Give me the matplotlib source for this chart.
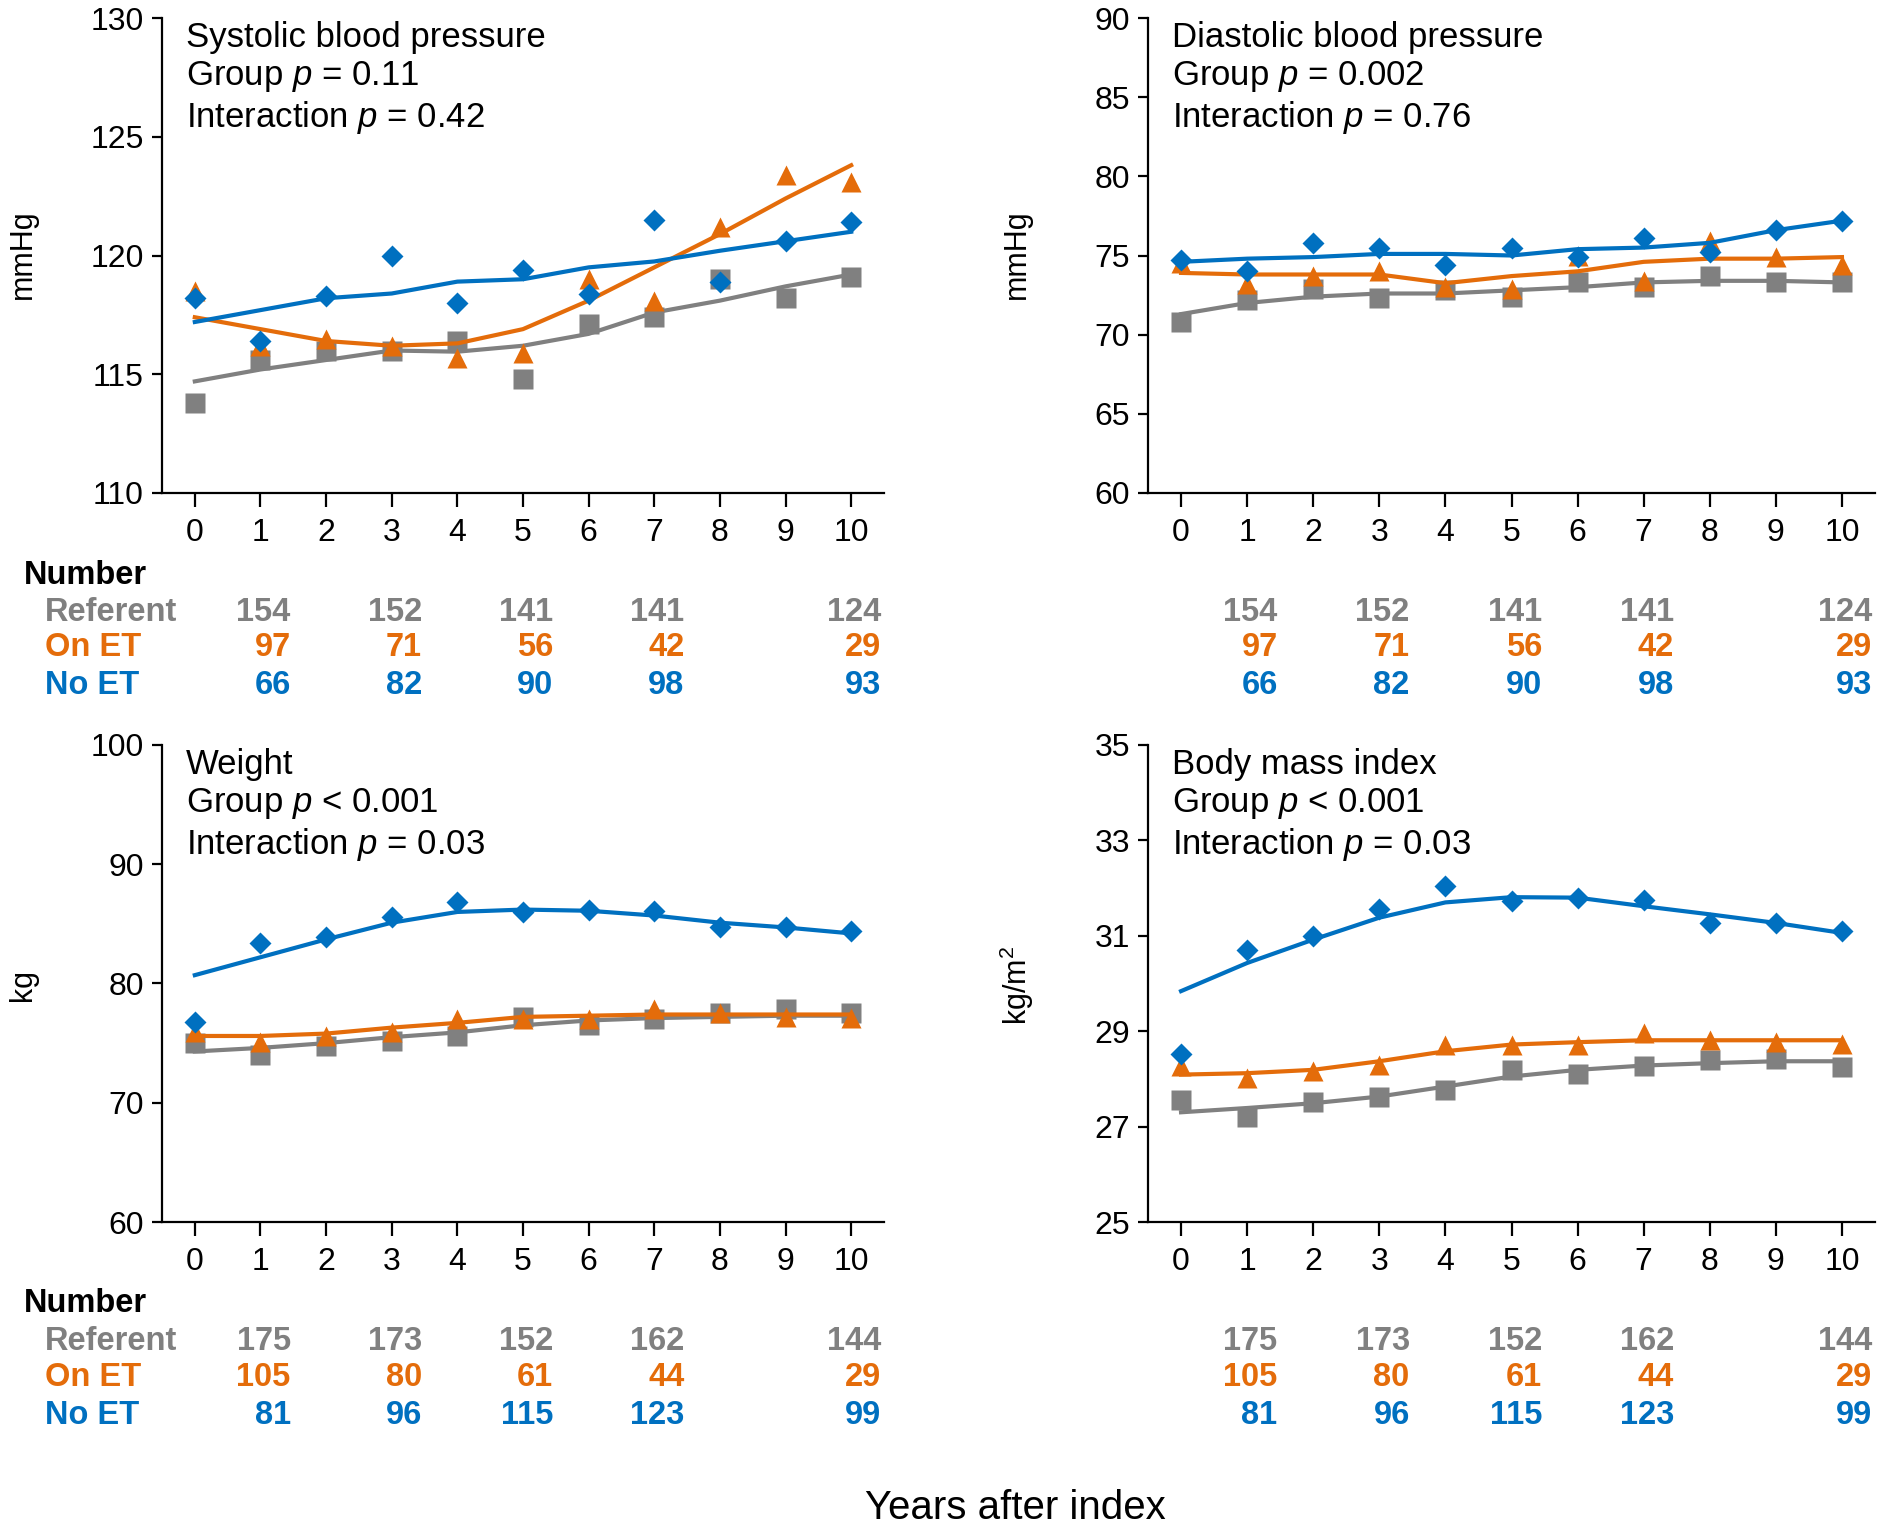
import matplotlib
matplotlib.use("Agg")
import matplotlib.pyplot as plt
import matplotlib.transforms as mtransforms
import numpy as np

plt.rcParams['font.family'] = ['Liberation Sans', 'DejaVu Sans']
plt.rcParams['mathtext.fontset'] = 'custom'
plt.rcParams['mathtext.it'] = 'Liberation Sans:italic'
plt.rcParams['mathtext.rm'] = 'Liberation Sans'

years = np.arange(11)

GRAY = '#808080'
ORANGE = '#E46C0A'
BLUE = '#0070C0'

# Systolic blood pressure (mmHg)
sbp_ref = [113.8, 115.6, 116.0, 116.0, 116.4, 114.8, 117.1, 117.4, 119.0, 118.2, 119.1]
sbp_on = [118.5, 116.2, 116.5, 116.2, 115.7, 115.9, 119.0, 118.1, 121.2, 123.4, 123.1]
sbp_no = [118.2, 116.4, 118.3, 120.0, 118.0, 119.4, 118.4, 121.5, 118.9, 120.6, 121.4]
sbp_ref_fit = [114.7, 115.2, 115.6, 116.0, 115.95, 116.2, 116.7, 117.6, 118.1, 118.7, 119.2]
sbp_on_fit = [117.4, 116.9, 116.4, 116.2, 116.3, 116.9, 118.1, 119.5, 120.9, 122.4, 123.8]
sbp_no_fit = [117.2, 117.7, 118.2, 118.4, 118.9, 119.0, 119.5, 119.75, 120.2, 120.6, 121.0]

# Diastolic blood pressure (mmHg)
dbp_ref = [70.8, 72.2, 72.9, 72.3, 72.8, 72.4, 73.3, 73.0, 73.7, 73.3, 73.3]
dbp_on = [74.5, 73.2, 73.7, 74.0, 73.0, 72.9, 75.0, 73.4, 75.9, 74.9, 74.4]
dbp_no = [74.7, 74.0, 75.8, 75.5, 74.4, 75.5, 74.9, 76.1, 75.2, 76.6, 77.2]
dbp_ref_fit = [71.3, 72.0, 72.4, 72.6, 72.6, 72.8, 73.0, 73.3, 73.4, 73.4, 73.3]
dbp_on_fit = [73.9, 73.8, 73.8, 73.8, 73.25, 73.7, 74.0, 74.6, 74.8, 74.8, 74.9]
dbp_no_fit = [74.6, 74.8, 74.9, 75.1, 75.1, 75.0, 75.4, 75.5, 75.8, 76.6, 77.2]

# Weight (kg)
wt_ref = [75.0, 74.0, 74.8, 75.2, 75.6, 77.2, 76.5, 77.0, 77.5, 77.9, 77.5]
wt_on = [75.9, 75.1, 75.6, 75.9, 77.0, 77.0, 77.0, 77.9, 77.5, 77.2, 77.1]
wt_no = [76.8, 83.4, 83.9, 85.6, 86.8, 86.0, 86.2, 86.1, 84.7, 84.7, 84.4]
wt_ref_fit = [74.3, 74.6, 75.0, 75.5, 75.9, 76.5, 76.9, 77.1, 77.2, 77.3, 77.3]
wt_on_fit = [75.6, 75.6, 75.8, 76.3, 76.7, 77.2, 77.3, 77.4, 77.4, 77.4, 77.4]
wt_no_fit = [80.7, 82.2, 83.7, 85.1, 86.0, 86.2, 86.1, 85.7, 85.1, 84.7, 84.2]

# Body mass index (kg/m2)
bmi_ref = [27.55, 27.21, 27.51, 27.63, 27.76, 28.19, 28.11, 28.26, 28.40, 28.41, 28.25]
bmi_on = [28.26, 28.02, 28.16, 28.30, 28.72, 28.72, 28.72, 28.96, 28.81, 28.77, 28.74]
bmi_no = [28.53, 30.71, 30.99, 31.56, 32.04, 31.73, 31.80, 31.75, 31.27, 31.26, 31.10]
bmi_ref_fit = [27.30, 27.39, 27.49, 27.63, 27.84, 28.05, 28.19, 28.28, 28.33, 28.37, 28.37]
bmi_on_fit = [28.09, 28.12, 28.19, 28.37, 28.58, 28.72, 28.77, 28.81, 28.81, 28.81, 28.81]
bmi_no_fit = [29.84, 30.43, 30.92, 31.38, 31.70, 31.81, 31.80, 31.62, 31.45, 31.27, 31.06]

# numbers at risk
count_years = [1, 3, 5, 7, 10]
bp_ref_n = [154, 152, 141, 141, 124]
bp_on_n = [97, 71, 56, 42, 29]
bp_no_n = [66, 82, 90, 98, 93]
wt_ref_n = [175, 173, 152, 162, 144]
wt_on_n = [105, 80, 61, 44, 29]
wt_no_n = [81, 96, 115, 123, 99]

fig = plt.figure(figsize=(18.82, 15.28), dpi=100)

W, H = 1882, 1528


def make_ax(left, top, right, bottom):
    return fig.add_axes([left / W, 1 - bottom / H, (right - left) / W, (bottom - top) / H])


def draw_panel(ax, ref, on, no, ref_fit, on_fit, no_fit, ylim, yticks, lines):
    ax.plot(years, ref, 's', color=GRAY, ms=14, mec='none')
    ax.plot(years, ref_fit, '-', color=GRAY, lw=3)
    ax.plot(years, on, '^', color=ORANGE, ms=14, mec='none')
    ax.plot(years, on_fit, '-', color=ORANGE, lw=3)
    ax.plot(years, no, 'D', color=BLUE, ms=11, mec='none')
    ax.plot(years, no_fit, '-', color=BLUE, lw=3)
    ax.set_xlim(-0.5, 10.5)
    ax.set_ylim(*ylim)
    ax.set_yticks(yticks)
    ax.set_xticks(years)
    for s in ['top', 'right']:
        ax.spines[s].set_visible(False)
    for s in ['left', 'bottom']:
        ax.spines[s].set_linewidth(1.6)
    ax.tick_params(axis='x', direction='out', length=10, width=1.6, pad=8, labelsize=23)
    ax.tick_params(axis='y', direction='out', length=7, width=1.6, pad=6, labelsize=23)
    ax.text(0.033, 0.994, "\n".join(lines), transform=ax.transAxes, ha='left', va='top',
            fontsize=25, linespacing=1.19)


def draw_counts(ax, ys, ref_n, on_n, no_n, with_labels):
    tr = mtransforms.blended_transform_factory(ax.transData, fig.transFigure)
    kw = dict(fontsize=23.5, fontweight='bold')
    for x, r, o, n in zip(count_years, ref_n, on_n, no_n):
        ax.text(x + 0.46, ys[1], str(r), transform=tr, ha='right', va='center', color=GRAY, **kw)
        ax.text(x + 0.46, ys[2], str(o), transform=tr, ha='right', va='center', color=ORANGE, **kw)
        ax.text(x + 0.46, ys[3], str(n), transform=tr, ha='right', va='center', color=BLUE, **kw)
    if with_labels:
        fig.text(24 / W, ys[0], "Number", ha='left', va='center', color='black', **kw)
        fig.text(45 / W, ys[1], "Referent", ha='left', va='center', color=GRAY, **kw)
        fig.text(45 / W, ys[2], "On ET", ha='left', va='center', color=ORANGE, **kw)
        fig.text(45 / W, ys[3], "No ET", ha='left', va='center', color=BLUE, **kw)


ax1 = make_ax(162, 18, 884, 493)
draw_panel(ax1, sbp_ref, sbp_on, sbp_no, sbp_ref_fit, sbp_on_fit, sbp_no_fit,
           (110, 130), [110, 115, 120, 125, 130],
           ["Systolic blood pressure", "Group $p$ = 0.11", "Interaction $p$ = 0.42"])
ax2 = make_ax(1148, 18, 1875, 493)
draw_panel(ax2, dbp_ref, dbp_on, dbp_no, dbp_ref_fit, dbp_on_fit, dbp_no_fit,
           (60, 90), [60, 65, 70, 75, 80, 85, 90],
           ["Diastolic blood pressure", "Group $p$ = 0.002", "Interaction $p$ = 0.76"])
ax3 = make_ax(162, 745, 884, 1222)
draw_panel(ax3, wt_ref, wt_on, wt_no, wt_ref_fit, wt_on_fit, wt_no_fit,
           (60, 100), [60, 70, 80, 90, 100],
           ["Weight", "Group $p$ < 0.001", "Interaction $p$ = 0.03"])
ax4 = make_ax(1148, 745, 1875, 1222)
draw_panel(ax4, bmi_ref, bmi_on, bmi_no, bmi_ref_fit, bmi_on_fit, bmi_no_fit,
           (25, 35), [25, 27, 29, 31, 33, 35],
           ["Body mass index", "Group $p$ < 0.001", "Interaction $p$ = 0.03"])

top_rows = [1 - 575 / H, 1 - 612 / H, 1 - 648 / H, 1 - 685 / H]
bot_rows = [1 - 1304 / H, 1 - 1341 / H, 1 - 1378 / H, 1 - 1416 / H]
draw_counts(ax1, top_rows, bp_ref_n, bp_on_n, bp_no_n, True)
draw_counts(ax2, top_rows, bp_ref_n, bp_on_n, bp_no_n, False)
draw_counts(ax3, bot_rows, wt_ref_n, wt_on_n, wt_no_n, True)
draw_counts(ax4, bot_rows, wt_ref_n, wt_on_n, wt_no_n, False)

lab = dict(rotation=90, ha='center', va='center', fontsize=22)
fig.text(23 / W, 1 - 254 / H, "mmHg", **lab)
fig.text(1017 / W, 1 - 254 / H, "mmHg", **lab)
fig.text(23 / W, 1 - 985 / H, "kg", **lab)
fig.text(1017 / W, 1 - 985 / H, "kg/m$^2$", **lab)

fig.text(1015 / W, 1 - 1508 / H, "Years after index", ha='center', va='center', fontsize=29)

fig.savefig("out.png", dpi=100)
